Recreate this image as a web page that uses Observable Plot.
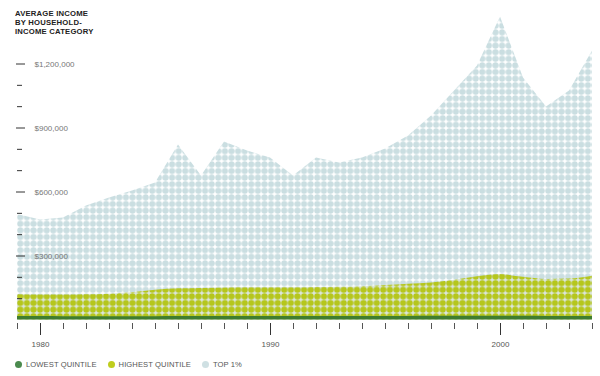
<!DOCTYPE html>
<html>
<head>
<meta charset="utf-8">
<script src="https://cdn.jsdelivr.net/npm/d3@7"></script>
<script src="https://cdn.jsdelivr.net/npm/@observablehq/plot@0.6"></script>
<style>
  html, body { margin: 0; padding: 0; background: #fff; }
  body { position: relative; width: 600px; height: 376px; overflow: hidden; font-family: "Liberation Sans", Arial, sans-serif; }
  #title { position: absolute; left: 15px; top: 10px; font-size: 7.7px; font-weight: bold; line-height: 8.8px; color: #222; letter-spacing: 0.2px; }
  #chart { position: absolute; left: 0; top: 0; }
  #legend { position: absolute; left: 15px; top: 360px; display: flex; font-size: 7.6px; color: #555; letter-spacing: 0.1px; }
  #legend .item { display: flex; align-items: center; margin-right: 11px; }
  #legend .sw { width: 7px; height: 7px; border-radius: 50%; margin-right: 4px; }
</style>
</head>
<body>
<div id="chart"></div>
<div id="title">AVERAGE INCOME<br>BY HOUSEHOLD-<br>INCOME CATEGORY</div>
<div id="legend"></div>
<script>
const years = [1979,1980,1981,1982,1983,1984,1985,1986,1987,1988,1989,1990,1991,1992,1993,1994,1995,1996,1997,1998,1999,2000,2001,2002,2003,2004];
const top1Pct = [495,469,478,534,572,605,642,820,675,834,792,759,675,759,736,759,801,862,956,1073,1191,1420,1134,998,1073,1261];
const highestQuintile = [118,117,117,118,121,128,140,146,148,150,151,151,151,152,153,156,162,168,174,186,203,213,200,190,192,205];
const lowestQuintile = [16,16,15,15,15,15,15,16,16,16,16,16,16,16,16,16,16,16,17,17,17,17,17,16,16,16];
const yMajorTicks = [300000,600000,900000,1200000];
const yMinorTicks = [100000,200000,400000,500000,700000,800000,1000000,1100000];
const xMajorTicks = [1980,1990,2000];
const seriesNames = ["LOWEST QUINTILE","HIGHEST QUINTILE","TOP 1%"];
const seriesColors = ["#4b8a4e","#bfcd1e","#cfe0e3"];

const data = years.map((y, i) => ({
  year: y,
  top1: top1Pct[i] * 1000,
  high: highestQuintile[i] * 1000,
  low: lowestQuintile[i] * 1000
}));

const chart = Plot.plot({
  width: 600,
  height: 352,
  marginLeft: 16,
  marginRight: 8,
  marginTop: 0,
  marginBottom: 29,
  style: { background: "transparent", fontFamily: "Liberation Sans, Arial, sans-serif" },
  x: { domain: [1979, 2004], range: [17, 592], axis: null, label: null },
  y: { domain: [0, 1500000], range: [319.5, -0.5], axis: null, label: null },
  marks: [
    Plot.areaY(data, { x: "year", y: "top1", fill: "url(#pBlue)", curve: "linear" }),
    Plot.areaY(data, { x: "year", y: "high", fill: "url(#pYellow)", curve: "monotone-x" }),
    Plot.areaY(data, { x: "year", y: "low", fill: "#3f7d2f", curve: "monotone-x" }),
    Plot.axisY(yMinorTicks, { anchor: "left", label: null, tickSize: 5, dx: 6, tickFormat: () => "", stroke: "#333" }),
    Plot.axisY(yMajorTicks, { anchor: "left", label: null, tickSize: 9, dx: 9, tickFormat: () => "", stroke: "#333" }),
    Plot.axisY(yMajorTicks, { anchor: "left", label: null, tickSize: 0, tickPadding: 0, dx: 18, textAnchor: "start",
      tickFormat: d => "$" + d3.format(",")(d), fill: "#777", fontSize: 8 }),
    Plot.axisX(years.filter(y => !xMajorTicks.includes(y)), { anchor: "bottom", label: null, tickSize: 6, tickFormat: () => "", stroke: "#555" }),
    Plot.axisX(xMajorTicks, { anchor: "bottom", label: null, tickSize: 12, tickPadding: 6, tickFormat: d => String(d), stroke: "#333", fill: "#555", fontSize: 8 })
  ]
});

const defs = d3.select(chart).insert("defs", ":first-child");
const sp = 6.6;
const pb = defs.append("pattern").attr("id", "pBlue").attr("patternUnits", "userSpaceOnUse")
  .attr("width", sp).attr("height", sp).attr("x", 17).attr("y", 319.5);
pb.append("circle").attr("cx", sp/2).attr("cy", sp/2).attr("r", 3.05).attr("fill", "#cadee1");
const py = defs.append("pattern").attr("id", "pYellow").attr("patternUnits", "userSpaceOnUse")
  .attr("width", sp).attr("height", sp).attr("x", 17).attr("y", 319.5);
py.append("rect").attr("width", sp).attr("height", sp).attr("fill", "#dbe5df");
py.append("circle").attr("cx", sp/2).attr("cy", sp/2).attr("r", 3.05).attr("fill", "#b5c61c");

document.getElementById("chart").appendChild(chart);

const legend = d3.select("#legend");
seriesNames.forEach((n, i) => {
  const it = legend.append("div").attr("class", "item");
  it.append("div").attr("class", "sw").style("background", seriesColors[i]);
  it.append("span").text(n);
});
</script>
</body>
</html>
